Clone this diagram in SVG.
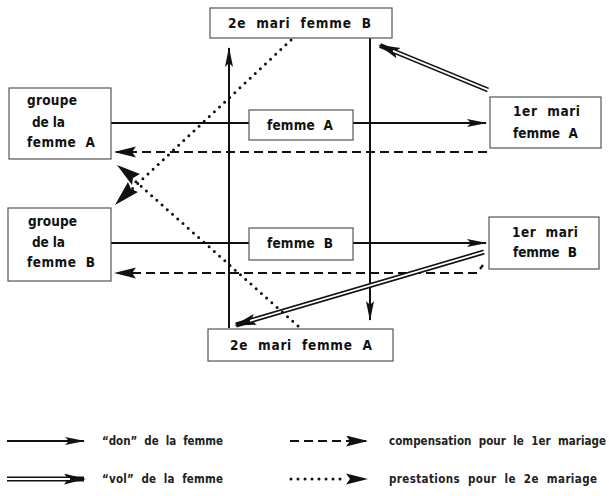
<svg xmlns="http://www.w3.org/2000/svg" width="609" height="496" viewBox="0 0 609 496">
<defs>
<style>
.box{fill:#fff;stroke:#555;stroke-width:1.2}
.t{font-family:"Liberation Sans Narrow","DejaVu Sans Condensed","Liberation Sans",sans-serif;font-size:13.5px;fill:#111;font-weight:bold}
.lt{font-family:"Liberation Sans Narrow","DejaVu Sans Condensed","Liberation Sans",sans-serif;font-size:11.5px;fill:#222;font-weight:bold}
.solid{fill:none;stroke:#111;stroke-width:2}
.dash{fill:none;stroke:#111;stroke-width:2.2;stroke-dasharray:9 5}
.dot{fill:none;stroke:#111;stroke-width:3;stroke-linecap:round;stroke-dasharray:0 7}
.dblo{fill:none;stroke:#111;stroke-width:5}
.dbli{fill:none;stroke:#fff;stroke-width:1.8}
</style>
<marker id="ahS" markerUnits="userSpaceOnUse" markerWidth="22" markerHeight="10" refX="19" refY="4" orient="auto">
<path d="M0,0 L20,4 L0,8 L4,4 z" fill="#111"/>
</marker>
<marker id="ahB" markerUnits="userSpaceOnUse" markerWidth="24" markerHeight="12" refX="20" refY="5.5" orient="auto">
<path d="M0,0 L22,5.5 L0,11 L4,5.5 z" fill="#111"/>
</marker>
</defs>

<g id="connectors">
<line class="solid" x1="111" y1="123" x2="249" y2="123"/>
<line class="solid" x1="353" y1="123" x2="486" y2="123" marker-end="url(#ahS)"/>
<line class="solid" x1="111" y1="243" x2="249" y2="243"/>
<line class="solid" x1="353" y1="243" x2="486" y2="243" marker-end="url(#ahS)"/>
<line class="solid" x1="229" y1="328" x2="229" y2="48" marker-end="url(#ahS)"/>
<line class="solid" x1="370" y1="38" x2="370" y2="320" marker-end="url(#ahS)"/>
<line class="dash" x1="487" y1="152" x2="116" y2="152" marker-end="url(#ahB)"/>
<path class="dash" d="M483,265 L477,273 L116,273" marker-end="url(#ahB)" stroke-dashoffset="4"/>
<line class="dblo" x1="488" y1="90" x2="380" y2="45.5" marker-end="url(#ahB)"/>
<line class="dbli" x1="489" y1="90.4" x2="393" y2="50.8"/>
<line class="dblo" x1="484" y1="252" x2="236" y2="325" marker-end="url(#ahB)"/>
<line class="dbli" x1="485" y1="251.7" x2="250" y2="320.8"/>
<line class="dot" x1="291" y1="40" x2="132" y2="189"/>
<path d="M115,205 L128,182 L131,189 L138,192 z" fill="#111"/>
<line class="dot" x1="298" y1="326" x2="134" y2="180"/>
<path d="M117,165 L140,174 L133,178 L132,185 z" fill="#111"/>
</g>

<g id="n-2e-mari-femme-B">
<rect class="box" x="210" y="8" width="182" height="30"/>
<text class="t" x="228" y="28" textLength="143" lengthAdjust="spacing" xml:space="preserve">2e  mari  femme  B</text>
</g>
<g id="n-groupe-femme-A">
<rect class="box" x="9" y="88" width="102" height="71"/>
<text class="t" x="27" y="105" textLength="50" lengthAdjust="spacing">groupe</text>
<text class="t" x="32" y="127" textLength="33" lengthAdjust="spacing">de la</text>
<text class="t" x="27" y="147" textLength="68" lengthAdjust="spacing" xml:space="preserve">femme  A</text>
</g>
<g id="n-femme-A">
<rect class="box" x="249" y="110" width="104" height="30"/>
<text class="t" x="267" y="130" textLength="66" lengthAdjust="spacing" xml:space="preserve">femme  A</text>
</g>
<g id="n-1er-mari-femme-A">
<rect class="box" x="490" y="97" width="111" height="51"/>
<text class="t" x="513" y="116" textLength="67" lengthAdjust="spacing" xml:space="preserve">1er  mari</text>
<text class="t" x="513" y="138" textLength="65" lengthAdjust="spacing" xml:space="preserve">femme  A</text>
</g>
<g id="n-groupe-femme-B">
<rect class="box" x="8" y="208" width="103" height="73"/>
<text class="t" x="28" y="226" textLength="49" lengthAdjust="spacing">groupe</text>
<text class="t" x="32" y="247" textLength="33" lengthAdjust="spacing">de la</text>
<text class="t" x="27" y="267" textLength="68" lengthAdjust="spacing" xml:space="preserve">femme  B</text>
</g>
<g id="n-femme-B">
<rect class="box" x="249" y="228" width="104" height="32"/>
<text class="t" x="267" y="248" textLength="66" lengthAdjust="spacing" xml:space="preserve">femme  B</text>
</g>
<g id="n-1er-mari-femme-B">
<rect class="box" x="489" y="217" width="110" height="52"/>
<text class="t" x="512" y="237" textLength="66" lengthAdjust="spacing" xml:space="preserve">1er  mari</text>
<text class="t" x="513" y="257" textLength="64" lengthAdjust="spacing" xml:space="preserve">femme  B</text>
</g>
<g id="n-2e-mari-femme-A">
<rect class="box" x="208" y="329" width="185" height="32"/>
<text class="t" x="230" y="350" textLength="142" lengthAdjust="spacing" xml:space="preserve">2e  mari  femme  A</text>
</g>

<g id="legend">
<line class="solid" x1="7" y1="441" x2="84" y2="441" marker-end="url(#ahS)"/>
<text class="lt" x="102" y="445" textLength="121" lengthAdjust="spacing" xml:space="preserve">“don”  de  la  femme</text>
<line class="dash" x1="290" y1="441" x2="366" y2="441" marker-end="url(#ahB)"/>
<text class="lt" x="389" y="445" textLength="217" lengthAdjust="spacing" xml:space="preserve">compensation  pour  le  1er  mariage</text>
<line class="dblo" x1="7" y1="479" x2="84" y2="479" marker-end="url(#ahB)"/>
<line class="dbli" x1="6" y1="479" x2="70" y2="479"/>
<text class="lt" x="102" y="483" textLength="121" lengthAdjust="spacing" xml:space="preserve">“vol”  de  la  femme</text>
<line class="dot" x1="291" y1="479" x2="345" y2="479"/>
<path d="M346,473.5 L368,479 L346,484.5 L350,479 z" fill="#111"/>
<text class="lt" x="389" y="483" textLength="208" lengthAdjust="spacing" xml:space="preserve">prestations  pour  le  2e  mariage</text>
</g>
</svg>
